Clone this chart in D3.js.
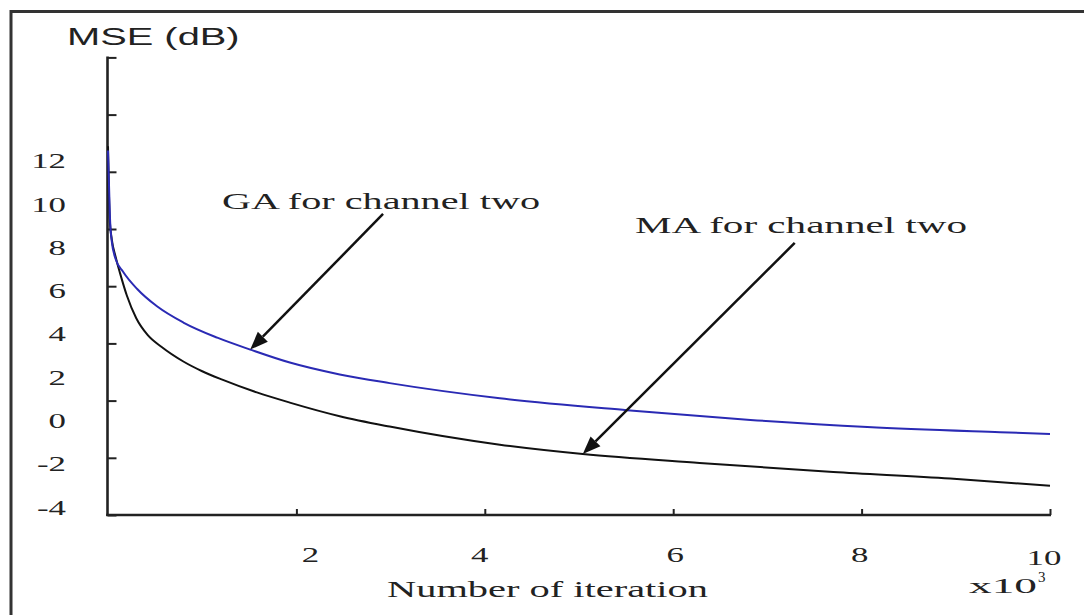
<!DOCTYPE html>
<html>
<head>
<meta charset="utf-8">
<script src="https://cdn.jsdelivr.net/npm/d3@7"></script>
<style>
  html, body { margin: 0; padding: 0; background: #fff; }
  svg { display: block; }
  .serif { font-family: "Liberation Serif", "Times New Roman", serif; fill: #222; }
  .sans { font-family: "Liberation Sans", Arial, sans-serif; fill: #222; }
</style>
</head>
<body>
<svg id="chart" width="1084" height="615"></svg>
<script>
// MSE convergence curves (iterations in thousands, MSE in dB)
const gaIter = [0, 0.01, 0.02, 0.04, 0.08, 0.16, 0.31, 0.52, 0.80, 1.16, 1.51, 1.93, 2.46, 2.99, 4.16, 5.51, 6.82, 8.06, 9.47, 10];
const gaMse  = [12.5, 11.0, 9.5, 8.3, 7.5, 6.9, 6.1, 5.3, 4.55, 3.85, 3.3, 2.7, 2.15, 1.75, 1.05, 0.5, 0.05, -0.28, -0.52, -0.6];

const maIter = [0, 0.01, 0.02, 0.04, 0.08, 0.13, 0.2, 0.3, 0.42, 0.57, 0.8, 1.0, 1.22, 1.58, 1.93, 2.46, 2.99, 4.16, 5.04, 6.28, 7.70, 8.94, 10];
const maMse  = [12.7, 10.5, 9.2, 8.4, 7.6, 6.8, 5.8, 4.75, 3.98, 3.42, 2.75, 2.3, 1.9, 1.32, 0.85, 0.22, -0.26, -1.1, -1.53, -1.94, -2.36, -2.66, -3.0];

const xTickValues = [2, 4, 6, 8, 10];
const yLabels = [12, 10, 8, 6, 4, 2, 0, -2, -4];
const yTickCount = 9;

const gaLabel = "GA for channel two";
const maLabel = "MA for channel two";
const yTitle = "MSE (dB)";
const xTitle = "Number of iteration";

// layout
const svg = d3.select("#chart");
const stretch = 1.66;             // wide lettering of the figure
const axisX = 107.5, axisBottom = 515, axisTop = 57.4, axisRight = 1050;

const x = d3.scaleLinear().domain([0, 10]).range([108, 1050]);
const y = d3.scaleLinear().domain([-4, 12]).range([507.5, 161.4]);
const ySlot = d3.scaleLinear().domain([0, yTickCount - 1]).range([axisBottom, axisTop]);

// outer frame
svg.append("rect")
  .attr("x", 11).attr("y", 11.5).attr("width", 1090).attr("height", 620)
  .attr("fill", "none").attr("stroke", "#333").attr("stroke-width", 3);

// y axis: line with inward tick marks
const yAxis = d3.axisRight(ySlot).tickValues(d3.range(yTickCount)).tickFormat("").tickSize(9).tickSizeOuter(0);
const gy = svg.append("g").attr("transform", `translate(${axisX},0)`).call(yAxis);
gy.select(".domain").remove();
gy.selectAll(".tick line").attr("stroke", "#222").attr("stroke-width", 2);
svg.append("line")
  .attr("x1", axisX).attr("x2", axisX).attr("y1", axisTop - 1).attr("y2", axisBottom + 1)
  .attr("stroke", "#222").attr("stroke-width", 2.6);

// x axis: line with upward tick marks
const xAxis = d3.axisBottom(x).tickValues(xTickValues).tickFormat("").tickSize(-6).tickSizeOuter(0);
const gx = svg.append("g").attr("transform", `translate(0,${axisBottom})`).call(xAxis);
gx.select(".domain").remove();
gx.selectAll(".tick line").attr("stroke", "#222").attr("stroke-width", 2);
svg.append("line")
  .attr("x1", axisX - 1.3).attr("x2", axisRight + 1).attr("y1", axisBottom).attr("y2", axisBottom)
  .attr("stroke", "#222").attr("stroke-width", 2.6);

// y tick labels
svg.append("g").selectAll("text").data(yLabels).join("text")
  .attr("class", "serif")
  .attr("text-anchor", "end")
  .attr("font-size", 21)
  .attr("transform", d => `translate(66,${y(d) + 7}) scale(${stretch},1)`)
  .text(d => d);

// x tick labels
const xLabelNudge = [14, -5, 2, -2, -6];
svg.append("g").selectAll("text").data(xTickValues).join("text")
  .attr("class", "serif")
  .attr("text-anchor", "middle")
  .attr("font-size", 21)
  .attr("transform", (d, i) => `translate(${x(d) + xLabelNudge[i]},${d === 10 ? 565 : 562}) scale(${stretch},1)`)
  .text(d => d);

// axis titles
svg.append("text").attr("class", "sans").attr("font-size", 24)
  .attr("transform", `translate(67,45) scale(${stretch},1)`)
  .text(yTitle);

svg.append("text").attr("class", "serif").attr("font-size", 24)
  .attr("x", 387).attr("y", 597)
  .attr("textLength", 321).attr("lengthAdjust", "spacingAndGlyphs")
  .text(xTitle);

const mult = svg.append("text").attr("class", "serif").attr("font-size", 20)
  .attr("x", 969).attr("y", 593);
mult.append("tspan").attr("textLength", 68).attr("lengthAdjust", "spacingAndGlyphs").text("x10");
mult.append("tspan").attr("font-size", 15).attr("dy", -11).attr("dx", 1).text("3");

// curves
const line = d3.line().x(d => x(d[0])).y(d => y(d[1])).curve(d3.curveMonotoneX);
const maPts = maIter.map((v, i) => [v, maMse[i]]);
const gaPts = gaIter.map((v, i) => [v, gaMse[i]]);

svg.append("path").datum(maPts).attr("d", line)
  .attr("fill", "none").attr("stroke", "#111").attr("stroke-width", 2);
svg.append("path").datum(gaPts).attr("d", line)
  .attr("fill", "none").attr("stroke", "#2a2ab4").attr("stroke-width", 2);

// annotations with arrows pointing at the curves
const gaAt = d3.scaleLinear().domain(gaIter).range(gaMse);
const maAt = d3.scaleLinear().domain(maIter).range(maMse);
const notes = [
  { text: gaLabel, tx: 222, ty: 209, len: 318, from: [2.92, 9.57], tipX: 1.51, at: gaAt },
  { text: maLabel, tx: 635, ty: 233, len: 332, from: [7.29, 8.23], tipX: 5.04, at: maAt }
];

notes.forEach(n => {
  svg.append("text").attr("class", "serif").attr("font-size", 24)
    .attr("x", n.tx).attr("y", n.ty)
    .attr("textLength", n.len).attr("lengthAdjust", "spacingAndGlyphs")
    .text(n.text);

  const x0 = x(n.from[0]), y0 = y(n.from[1]);
  const x1 = x(n.tipX), y1 = y(n.at(n.tipX));
  const ang = Math.atan2(y1 - y0, x1 - x0);
  const headLen = 18, headHalf = 7;
  const bx = x1 - headLen * Math.cos(ang), by = y1 - headLen * Math.sin(ang);
  svg.append("line")
    .attr("x1", x0).attr("y1", y0).attr("x2", bx).attr("y2", by)
    .attr("stroke", "#111").attr("stroke-width", 2.5);
  const px = -Math.sin(ang), py = Math.cos(ang);
  svg.append("polygon")
    .attr("points", [
      [x1, y1],
      [bx + headHalf * px, by + headHalf * py],
      [bx - headHalf * px, by - headHalf * py]
    ].map(p => p.join(",")).join(" "))
    .attr("fill", "#111");
});
</script>
</body>
</html>
